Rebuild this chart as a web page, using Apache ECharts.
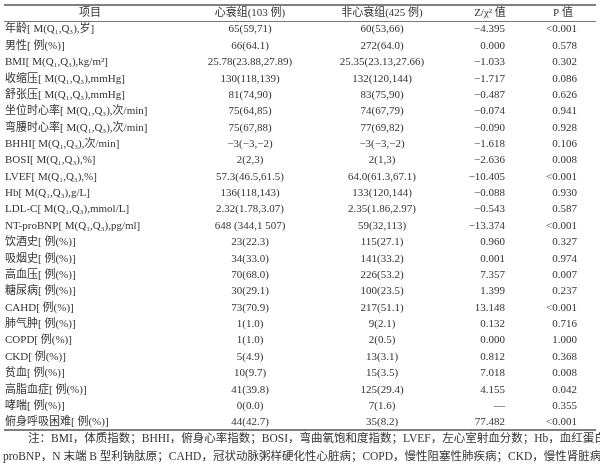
<!DOCTYPE html>
<html><head><meta charset="utf-8">
<script src="https://cdn.jsdelivr.net/npm/echarts@6/dist/echarts.min.js"></script>
<style>html,body{margin:0;padding:0;background:#fff}#chart{width:600px;height:466px}</style>
</head><body><div id="chart"></div>
<script>
var headers = ['项目', '心衰组(103 例)', '非心衰组(425 例)', 'Z/χ² 值', 'P 值'];
var items = ['年龄[ M(Q₁,Q₃),岁]', '男性[ 例(%)]', 'BMI[ M(Q₁,Q₃),kg/m²]', '收缩压[ M(Q₁,Q₃),mmHg]', '舒张压[ M(Q₁,Q₃),mmHg]',
	'坐位时心率[ M(Q₁,Q₃),次/min]', '弯腰时心率[ M(Q₁,Q₃),次/min]', 'BHHI[ M(Q₁,Q₃),次/min]', 'BOSI[ M(Q₁,Q₃),%]',
	'LVEF[ M(Q₁,Q₃),%]', 'Hb[ M(Q₁,Q₃),g/L]', 'LDL-C[ M(Q₁,Q₃),mmol/L]', 'NT-proBNP[ M(Q₁,Q₃),pg/ml]',
	'饮酒史[ 例(%)]', '吸烟史[ 例(%)]', '高血压[ 例(%)]', '糖尿病[ 例(%)]', 'CAHD[ 例(%)]', '肺气肿[ 例(%)]',
	'COPD[ 例(%)]', 'CKD[ 例(%)]', '贫血[ 例(%)]', '高脂血症[ 例(%)]', '哮喘[ 例(%)]', '俯身呼吸困难[ 例(%)]'];
var hfGroup = ['65(59,71)', '66(64.1)', '25.78(23.88,27.89)', '130(118,139)', '81(74,90)', '75(64,85)', '75(67,88)',
	'−3(−3,−2)', '2(2,3)', '57.3(46.5,61.5)', '136(118,143)', '2.32(1.78,3.07)', '648 (344,1 507)',
	'23(22.3)', '34(33.0)', '70(68.0)', '30(29.1)', '73(70.9)', '1(1.0)', '1(1.0)', '5(4.9)', '10(9.7)',
	'41(39.8)', '0(0.0)', '44(42.7)'];
var nonHfGroup = ['60(53,66)', '272(64.0)', '25.35(23.13,27.66)', '132(120,144)', '83(75,90)', '74(67,79)', '77(69,82)',
	'−3(−3,−2)', '2(1,3)', '64.0(61.3,67.1)', '133(120,144)', '2.35(1.86,2.97)', '59(32,113)',
	'115(27.1)', '141(33.2)', '226(53.2)', '100(23.5)', '217(51.1)', '9(2.1)', '2(0.5)', '13(3.1)', '15(3.5)',
	'125(29.4)', '7(1.6)', '35(8.2)'];
var zValues = ['−4.395', '0.000', '−1.033', '−1.717', '−0.487', '−0.074', '−0.090', '−1.618', '−2.636', '−10.405',
	'−0.088', '−0.543', '−13.374', '0.960', '0.001', '7.357', '1.399', '13.148', '0.132', '0.000', '0.812',
	'7.018', '4.155', '—', '77.482'];
var pValues = ['<0.001', '0.578', '0.302', '0.086', '0.626', '0.941', '0.928', '0.106', '0.008', '<0.001',
	'0.930', '0.587', '<0.001', '0.327', '0.974', '0.007', '0.237', '<0.001', '0.716', '1.000', '0.368',
	'0.008', '0.042', '0.355', '<0.001'];
var notes = ['　　注：BMI，体质指数；BHHI，俯身心率指数；BOSI，弯曲氧饱和度指数；LVEF，左心室射血分数；Hb，血红蛋白；LDL-C，低密度脂蛋白胆固醇；NT-',
	'proBNP，N 末端 B 型利钠肽原；CAHD，冠状动脉粥样硬化性心脏病；COPD，慢性阻塞性肺疾病；CKD，慢性肾脏病；—示 Fisher 确切概率法'];

var font = '11px "Liberation Serif","Noto Sans CJK SC",serif';
var color = '#333';
var els = [];
function txt(x, y, s, align, f) {
	els.push({type: 'text', x: x, y: y, style: {text: s, font: f || font, fill: color, align: align, verticalAlign: 'middle'}});
}
function line(y, w) {
	els.push({type: 'line', shape: {x1: 4, y1: y, x2: 596, y2: y}, style: {stroke: '#555', lineWidth: w}});
}
line(5, 1.5);
line(21.5, 0.8);
line(430, 1.5);
var hx = [90, 250, 382, 490, 563];
for(var h = 0; h < headers.length; h++) txt(hx[h], 13, headers[h], 'center');
for(var i = 0; i < items.length; i++) {
	var y = 29.5 + i * 16.37;
	txt(5, y, items[i], 'left');
	txt(250, y, hfGroup[i], 'center');
	txt(382, y, nonHfGroup[i], 'center');
	txt(505, y, zValues[i], 'right');
	txt(577, y, pValues[i], 'right');
}
var noteFont = '11.5px "Liberation Serif","Noto Sans CJK SC",serif';
txt(5, 439, notes[0], 'left', noteFont);
txt(3, 457, notes[1], 'left', noteFont);

var myChart = echarts.init(document.getElementById('chart'));
myChart.setOption({animation: false, graphic: {elements: els}});
</script></body></html>
